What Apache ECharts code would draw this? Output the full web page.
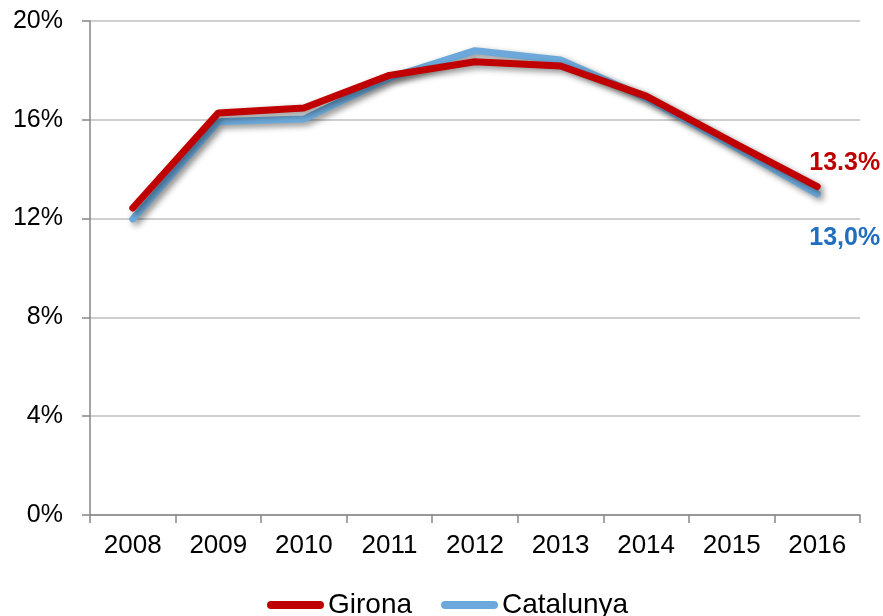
<!DOCTYPE html>
<html>
<head>
<meta charset="utf-8">
<script src="https://cdn.jsdelivr.net/npm/echarts@6/dist/echarts.min.js"></script>
<style>
  html, body { margin: 0; padding: 0; background: #fff; }
  #chart { width: 883px; height: 616px; }
</style>
</head>
<body>
<div id="chart"></div>
<script>
// dades
const years = ['2008', '2009', '2010', '2011', '2012', '2013', '2014', '2015', '2016']
const girona = [12.43, 16.28, 16.48, 17.8, 18.35, 18.18, 16.96, 15.11, 13.3]
const catalunya = [11.98, 15.92, 16.03, 17.7, 18.8, 18.42, 16.88, 14.98, 13.0]
const yTicks = [0, 4, 8, 12, 16, 20]

const font = 'Liberation Sans, Arial, sans-serif'
const red = '#C00000'
const blue = '#6CA9DA'

const pill = 'path://M4,0 H53 A4,4 0 0 1 53,8 H4 A4,4 0 0 1 4,0 Z'

// etiqueta final
function endLabel(text, color, offset) {
  return {
    show: true,
    formatter: text,
    offset: offset,
    color: color,
    fontWeight: 'bold',
    fontSize: 25,
    fontFamily: font,
  }
}

let myChart = echarts.init(document.getElementById('chart'))
let option = {
  animation: false,
  grid: { left: 90, right: 23, top: 21, bottom: 101 },
  legend: {
    left: 262,
    top: 586,
    itemWidth: 57,
    itemHeight: 8,
    itemGap: 29,
    textStyle: { fontSize: 28, fontFamily: font, color: '#000', padding: [0, 0, 0, -1] },
    data: [
      { name: 'Girona', icon: pill, itemStyle: { color: red } },
      { name: 'Catalunya', icon: pill, itemStyle: { color: blue } },
    ],
  },
  xAxis: {
    type: 'category',
    data: years,
    boundaryGap: true,
    axisLine: { lineStyle: { color: '#868686', width: 1.5 } },
    axisTick: { show: true, length: 8, lineStyle: { color: '#868686', width: 1.5 } },
    axisLabel: { fontSize: 26, fontFamily: font, color: '#000', margin: 18 },
  },
  yAxis: {
    type: 'value',
    min: yTicks[0],
    max: yTicks[yTicks.length - 1],
    interval: 4,
    axisLine: { show: true, lineStyle: { color: '#868686', width: 1.5 } },
    axisTick: { show: true, length: 8, lineStyle: { color: '#868686', width: 1.5 } },
    axisLabel: {
      fontSize: 25,
      fontFamily: font,
      color: '#000',
      margin: 27,
      formatter: (v) => v + '%',
    },
    splitLine: { lineStyle: { color: '#BFBFBF', width: 1.5 } },
  },
  series: [
    {
      name: 'Catalunya',
      type: 'line',
      data: catalunya,
      showSymbol: false,
      symbol: 'none',
      endLabel: endLabel('13,0%', '#1F6EBF', [-16, 44]),
      lineStyle: {
        color: blue,
        width: 7,
        cap: 'round',
        shadowColor: 'rgba(0,0,0,0.45)',
        shadowBlur: 6,
        shadowOffsetX: 3,
        shadowOffsetY: 3,
      },
      itemStyle: { color: blue },
    },
    {
      name: 'Girona',
      type: 'line',
      data: girona,
      showSymbol: false,
      symbol: 'none',
      endLabel: endLabel('13.3%', red, [-16, -23]),
      lineStyle: {
        color: red,
        width: 7,
        cap: 'round',
        shadowColor: 'rgba(0,0,0,0.45)',
        shadowBlur: 6,
        shadowOffsetX: 3,
        shadowOffsetY: 3,
      },
      itemStyle: { color: red },
    },
  ],
}
myChart.setOption(option)
</script>
</body>
</html>
